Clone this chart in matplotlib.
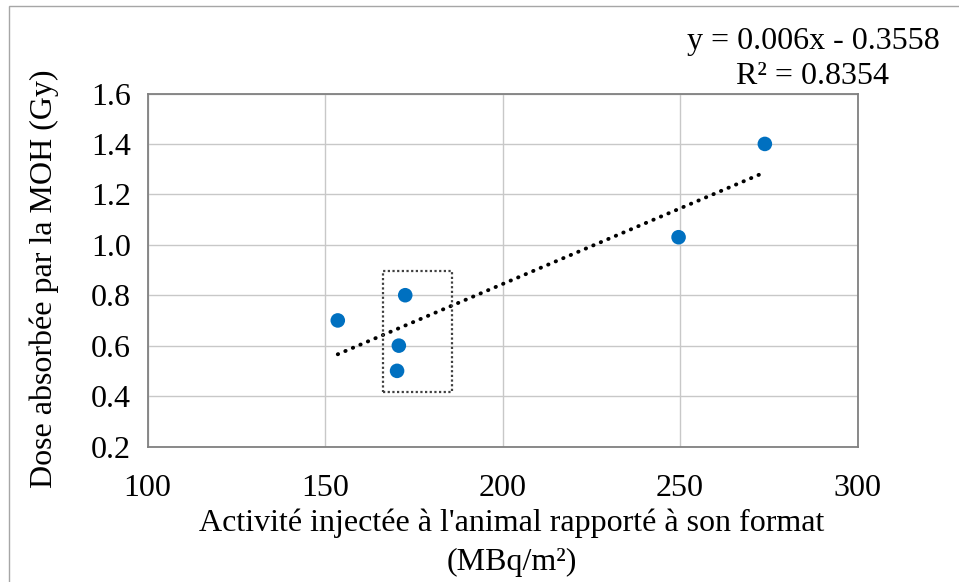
import matplotlib
matplotlib.use("Agg")
import matplotlib.pyplot as plt
from matplotlib.patches import Rectangle
import numpy as np

plt.rcParams['font.family'] = ['Liberation Serif', 'DejaVu Serif']

# Measurements: injected activity per body surface vs absorbed dose
activity = [153.6, 170.3, 170.8, 172.6, 249.6, 273.9]
dose = [0.70, 0.50, 0.60, 0.80, 1.03, 1.40]

# Linear trend reported on the chart
slope = 0.006
intercept = -0.3558
r_squared = 0.8354

# Highlighted group of points (dotted box)
box_x = [166.3, 185.7]
box_y = [0.417, 0.896]

x_ticks = [100, 150, 200, 250, 300]
y_ticks = [0.2, 0.4, 0.6, 0.8, 1.0, 1.2, 1.4, 1.6]

W, H = 959, 582
fig = plt.figure(figsize=(W / 100, H / 100), dpi=100)

# Chart-area frame
fig.patches.append(Rectangle((8.5 / W, -0.2), 1.2, 1.2 - 6 / H, transform=fig.transFigure,
                             fill=False, edgecolor='#a6a6a6', linewidth=1.0))

left, right, top, bottom = 147.5, 857.5, 93.5, 446.5
ax = fig.add_axes([left / W, 1 - bottom / H, (right - left) / W, (bottom - top) / H])

ax.set_xlim(100, 300)
ax.set_ylim(0.2, 1.6)
ax.set_xticks(x_ticks)
ax.set_yticks(y_ticks)
ax.set_xticklabels([str(v) for v in x_ticks])
ax.set_yticklabels([f"{v:.1f}" for v in y_ticks])
ax.tick_params(length=0, labelsize=23)
ax.tick_params(axis='x', pad=20)
ax.tick_params(axis='y', pad=12)
ax.grid(True, color='#c8c8c8', linewidth=1.0)
ax.set_axisbelow(True)
for s in ax.spines.values():
    s.set_color('#808080')
    s.set_linewidth(1.3)

# Trend line over the data range
xs = np.array([min(activity), max(activity)])
ax.plot(xs, slope * xs + intercept, color='black', linewidth=2.8,
        linestyle=(0, (0.1, 2.0)), dash_capstyle='round', zorder=3)

ax.scatter(activity, dose, s=110, color='#0070c0', edgecolors='none', zorder=4)

ax.add_patch(Rectangle((box_x[0], box_y[0]), box_x[1] - box_x[0], box_y[1] - box_y[0],
                       fill=False, edgecolor='#404040', linewidth=1.6,
                       linestyle=(0, (1, 1.1)), zorder=3))

fig.text(813 / W, 1 - 42 / H, f"y = {slope}x - {abs(intercept)}", fontsize=23,
         ha='center', va='center')
fig.text(813 / W, 1 - 76 / H, f"R² = {r_squared}", fontsize=23,
         ha='center', va='center')

fig.text(512 / W, 1 - 523 / H, "Activité injectée à l'animal rapporté à son format",
         fontsize=23, ha='center', va='center')
fig.text(512 / W, 1 - 562 / H, "(MBq/m²)", fontsize=23, ha='center', va='center')
fig.text(44 / W, 1 - 279 / H, "Dose absorbée par la MOH (Gy)", fontsize=23,
         ha='center', va='center', rotation=90)

fig.savefig("out.png", dpi=100)
